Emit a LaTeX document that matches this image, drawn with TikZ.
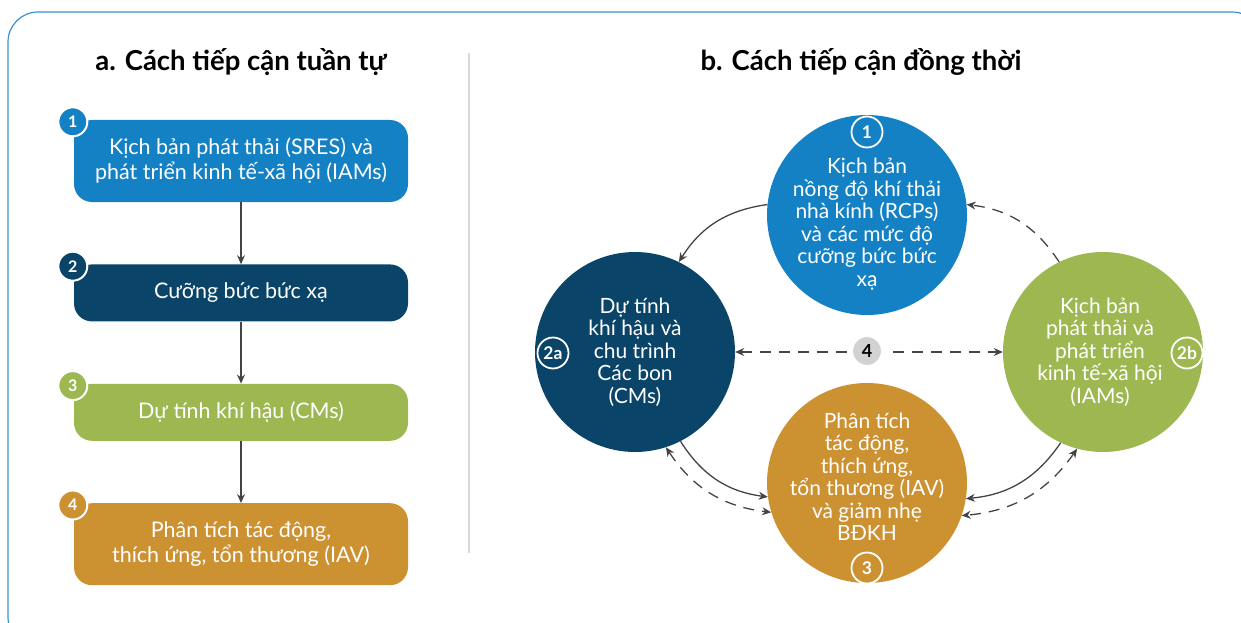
\documentclass[tikz,border=0pt]{standalone}
\usepackage{fontspec}
\setmainfont{Lato}
\usetikzlibrary{positioning,arrows.meta,shapes}

\definecolor{ipccblue}{HTML}{1581C5}
\definecolor{ipccnavy}{HTML}{0A4468}
\definecolor{ipccgreen}{HTML}{9DB851}
\definecolor{ipccgold}{HTML}{CC9131}
\definecolor{framecol}{HTML}{3A91CC}
\definecolor{arrowcol}{HTML}{444444}

\tikzset{
  flowbox/.style={rounded corners=18pt, minimum width=334pt, text=white, align=center, font=\fontsize{21.5}{25}\selectfont},
  numbadge/.style={circle, draw=white, line width=2pt, minimum size=29pt, inner sep=0pt, text=white, font=\fontsize{16}{16}\selectfont\bfseries},
  bubble/.style={circle, minimum size=200pt, inner sep=0pt},
  bubtext/.style={text=white, align=center, font=\fontsize{21}{22.5}\selectfont},
  ringbadge/.style={circle, draw=white, line width=1.8pt, minimum size=31pt, inner sep=0pt, text=white, font=\fontsize{17.5}{17.5}\selectfont\bfseries},
  link/.style={draw=arrowcol, line width=1.3pt, -{Stealth[length=9pt,width=8pt]}},
  dashlink/.style={link, dash pattern=on 11pt off 8pt},
}

\begin{document}
\begin{tikzpicture}[x=1pt, y=-1pt]
    \useasboundingbox (0,0) rectangle (1241,623);
    \draw[framecol, line width=1.2pt, rounded corners=30pt] (8,12) rectangle (1262,647);
    \draw[gray!30, line width=2pt] (469,53) -- (469,553);

    % a. sequential approach
    \node[font=\fontsize{27.5}{27.5}\selectfont\bfseries] (titlea) at (241,62) {a. Cách tiếp cận tuần tự};
    \node[flowbox, fill=ipccblue, minimum height=82pt] (box1) at (241,161) {Kịch bản phát thải (SRES) và\\phát triển kinh tế-xã hội (IAMs)};
    \node[flowbox, fill=ipccnavy, minimum height=57pt] (box2) [below=62pt of box1] {Cưỡng bức bức xạ};
    \node[flowbox, fill=ipccgreen, minimum height=57pt] (box3) [below=62pt of box2] {Dự tính khí hậu (CMs)};
    \node[flowbox, fill=ipccgold, minimum height=82pt] (box4) [below=62pt of box3] {Phân tích tác động,\\thích ứng, tổn thương (IAV)};
    \node[numbadge, fill=ipccblue] (n1) at ([xshift=-1pt, yshift=-2pt]box1.north west) {1};
    \node[numbadge, fill=ipccnavy] (n2) at ([xshift=-1pt, yshift=-2pt]box2.north west) {2};
    \node[numbadge, fill=ipccgreen] (n3) at ([xshift=-1pt, yshift=-2pt]box3.north west) {3};
    \node[numbadge, fill=ipccgold] (n4) at ([xshift=-1pt, yshift=-2pt]box4.north west) {4};
    \draw[link] (box1) -- (box2);
    \draw[link] (box2) -- (box3);
    \draw[link] (box3) -- (box4);

    % b. parallel approach
    \node[font=\fontsize{27.5}{27.5}\selectfont\bfseries] (titleb) at (861,62) {b. Cách tiếp cận đồng thời};
    \node[bubble, fill=ipccblue] (c1) at (867,215) {};
    \node[bubble, fill=ipccnavy] (c2a) at (635,352) {};
    \node[bubble, fill=ipccgreen] (c2b) at (1103,352) {};
    \node[bubble, fill=ipccgold] (c3) at (867,483) {};
    \node[bubtext] (t1) at ([yshift=-9pt]c1.center) {Kịch bản\\nồng độ khí thải\\nhà kính (RCPs)\\và các mức độ\\cưỡng bức bức\\xạ};
    \node[bubtext] (t2a) at (c2a.center) {Dự tính\\khí hậu và\\chu trình\\Các bon\\(CMs)};
    \node[bubtext] (t2b) at ([xshift=-3pt]c2b.center) {Kịch bản\\phát thải và\\phát triển\\kinh tế-xã hội\\(IAMs)};
    \node[bubtext] (t3) at ([yshift=6pt]c3.center) {Phân tích\\tác động,\\thích ứng,\\tổn thương (IAV)\\và giảm nhẹ\\BĐKH};
    \node[ringbadge] (r1) at (867,132) {1};
    \node[ringbadge] (r2a) at (553,353) {2a};
    \node[ringbadge] (r2b) at (1187,353) {2b};
    \node[ringbadge] (r3) at (867,568) {3};

    \draw[dashlink, {Stealth[length=9pt,width=8pt]}-{Stealth[length=9pt,width=8pt]}] (c2a.0) -- (c2b.180);
    \node[circle, fill=gray!35, draw=white, line width=5pt, minimum size=33pt, inner sep=0pt, font=\fontsize{18}{18}\selectfont\bfseries] (n4mid) at (867,351) {4};

    \draw[link] (c1.174) to[bend right=25] (c2a.64);
    \draw[dashlink] (c2b.116) to[bend right=25] (c1.6);
    \draw[link] (c2a.297) to[bend right=25] (c3.188);
    \draw[dashlink, {Stealth[length=9pt,width=8pt]}-{Stealth[length=9pt,width=8pt]}] (c2a.288) to[bend right=25] (c3.197);
    \draw[link] (c2b.245) to[bend left=25] (c3.351);
    \draw[dashlink, {Stealth[length=9pt,width=8pt]}-{Stealth[length=9pt,width=8pt]}] (c2b.255) to[bend left=25] (c3.341);
\end{tikzpicture}
\end{document}
